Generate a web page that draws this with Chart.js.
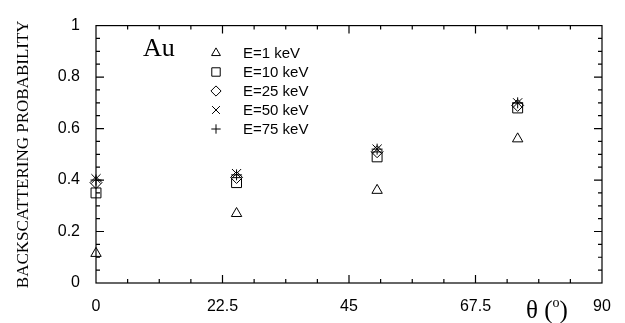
<!DOCTYPE html>
<html>
<head>
<meta charset="utf-8">
<script src="https://cdn.jsdelivr.net/npm/chart.js@4"></script>
<style>
  html, body { margin: 0; padding: 0; background: #fff; }
  #grafico { display: block; }
</style>
</head>
<body>
<canvas id="grafico" width="625" height="323"></canvas>
<script>
// angles (deg) and backscattering probability for Au
const angulos = [0, 25, 50, 75];
const e1 = [0.115, 0.27, 0.36, 0.56];
const e10 = [0.35, 0.39, 0.49, 0.68];
const e25 = [0.39, 0.41, 0.51, 0.69];
const e50 = [0.405, 0.425, 0.52, 0.70];
const e75 = [0.40, 0.42, 0.52, 0.70];

const etiquetas = ["E=1 keV", "E=10 keV", "E=25 keV", "E=50 keV", "E=75 keV"];
const estilos = ["triangle", "rect", "rectRot", "crossRot", "cross"];
const radios = [6, 7, 6, 6.5, 5.5];
const xTicks = [0, 22.5, 45, 67.5, 90];
const yTicks = [0, 0.2, 0.4, 0.6, 0.8, 1];

const series = [e1, e10, e25, e50, e75];

function puntos(valores) {
    return valores.map((v, i) => ({ x: angulos[i], y: v }));
}

const datasets = series.map((s, i) => ({
    label: etiquetas[i],
    data: puntos(s),
    pointStyle: estilos[i],
    pointRadius: radios[i],
    pointHoverRadius: radios[i],
    borderColor: "#000",
    backgroundColor: "rgba(0,0,0,0)",
    pointBorderWidth: 1,
    showLine: false,
    clip: false
}));

// box with inward major/minor ticks, legend and extra texts
const marco = {
    id: "marco",
    afterDraw(chart) {
        const ctx = chart.ctx;
        const a = chart.chartArea;
        const xs = chart.scales.x, ys = chart.scales.y;
        ctx.save();
        ctx.strokeStyle = "#000";
        ctx.lineWidth = 1.2;
        ctx.strokeRect(a.left, a.top, a.right - a.left, a.bottom - a.top);
        ctx.beginPath();
        for (let i = 1; i < 16; i++) {
            const v = i * 5.625;
            const px = xs.getPixelForValue(v);
            const len = (i % 4 === 0) ? 8 : 4;
            ctx.moveTo(px, a.bottom); ctx.lineTo(px, a.bottom - len);
            ctx.moveTo(px, a.top); ctx.lineTo(px, a.top + len);
        }
        for (let i = 1; i < 20; i++) {
            const v = i * 0.05;
            const py = ys.getPixelForValue(v);
            const len = (i % 4 === 0) ? 8 : 4;
            ctx.moveTo(a.left, py); ctx.lineTo(a.left + len, py);
            ctx.moveTo(a.right, py); ctx.lineTo(a.right - len, py);
        }
        ctx.stroke();

        // "Au" label
        ctx.fillStyle = "#000";
        ctx.font = "26px 'Liberation Serif'";
        ctx.textBaseline = "alphabetic";
        ctx.textAlign = "left";
        ctx.fillText("Au", 143, 56);

        // legend
        const lx = 216, tx = 243;
        const ly = [53, 72, 91, 110, 129];
        ctx.font = "15px 'Liberation Sans'";
        ctx.textBaseline = "middle";
        chart.data.datasets.forEach((d, i) => {
            ctx.fillStyle = "#fff";
            ctx.strokeStyle = "#000";
            ctx.lineWidth = 1;
            Chart.helpers.drawPoint(ctx, {
                pointStyle: d.pointStyle,
                radius: d.pointRadius * 0.85,
                rotation: 0,
                borderWidth: 1
            }, lx, ly[i]);
            ctx.fillStyle = "#000";
            ctx.fillText(d.label, tx, ly[i] + 1);
        });

        // x axis title
        ctx.fillStyle = "#000";
        ctx.font = "25px 'Liberation Serif'";
        ctx.textBaseline = "alphabetic";
        ctx.fillText("\u03b8 (", 526, 318);
        let w = ctx.measureText("\u03b8 (").width;
        ctx.font = "14px 'Liberation Serif'";
        ctx.fillText("o", 526 + w, 307);
        let w2 = ctx.measureText("o").width;
        ctx.font = "25px 'Liberation Serif'";
        ctx.fillText(")", 526 + w + w2, 318);
        ctx.restore();
    }
};

new Chart(document.getElementById("grafico"), {
    type: "scatter",
    data: { datasets: datasets },
    options: {
        responsive: false,
        animation: false,
        devicePixelRatio: 1,
        layout: { padding: { top: 17, right: 23, left: 0, bottom: 0 } },
        plugins: {
            legend: { display: false },
            tooltip: { enabled: false }
        },
        scales: {
            x: {
                type: "linear",
                min: 0,
                max: 90,
                afterBuildTicks: s => { s.ticks = xTicks.map(v => ({ value: v })); },
                afterFit: s => { s.height = 40; },
                grid: { display: false, drawTicks: false },
                border: { display: false },
                ticks: {
                    padding: 14,
                    color: "#000",
                    font: { family: "'Liberation Sans'", size: 16 },
                    maxRotation: 0,
                    autoSkip: false,
                    callback: v => String(v)
                }
            },
            y: {
                min: 0,
                max: 1,
                afterBuildTicks: s => { s.ticks = yTicks.map(v => ({ value: v })); },
                afterFit: s => { s.width = 96; },
                grid: { display: false, drawTicks: false },
                border: { display: false },
                ticks: {
                    padding: 16,
                    color: "#000",
                    font: { family: "'Liberation Sans'", size: 16 },
                    callback: v => String(v)
                },
                title: {
                    display: true,
                    text: "BACKSCATTERING PROBABILITY",
                    color: "#000",
                    font: { family: "'Liberation Serif'", size: 17 },
                    padding: { top: 13, bottom: 0 }
                }
            }
        }
    },
    plugins: [marco]
});
</script>
</body>
</html>
